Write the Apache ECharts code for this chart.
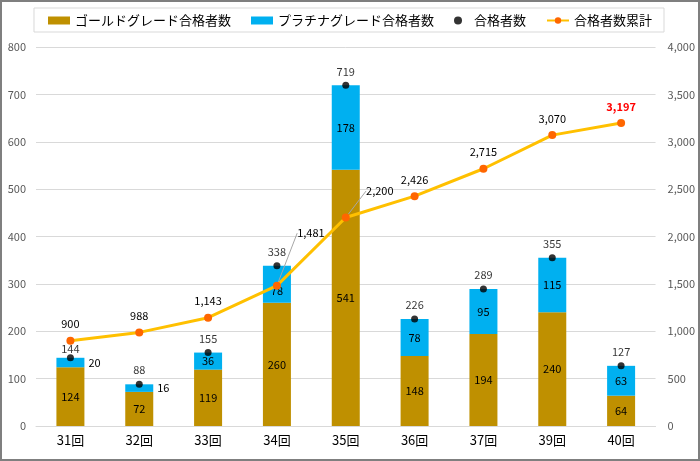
<!DOCTYPE html>
<html>
<head>
<meta charset="utf-8">
<script src="https://cdn.jsdelivr.net/npm/echarts@6/dist/echarts.min.js"></script>
<style>
  html, body { margin: 0; padding: 0; background: #fff; }
  #chart { width: 700px; height: 461px; box-sizing: border-box; border: 2px solid #7f7f7f; }
</style>
</head>
<body>
<div id="chart"></div>
<script>
// 回ごとの合格者数
var categories = ['31回', '32回', '33回', '34回', '35回', '36回', '37回', '39回', '40回'];
var goldPass = [124, 72, 119, 260, 541, 148, 194, 240, 64];
var platinumPass = [20, 16, 36, 78, 178, 78, 95, 115, 63];
var totalPass = [144, 88, 155, 338, 719, 226, 289, 355, 127];
var cumulativePass = [900, 988, 1143, 1481, 2200, 2426, 2715, 3070, 3197];
var leftTicks = [0, 800, 100];
var rightTicks = [0, 4000, 500];

var font = '"Noto Sans CJK JP", "Noto Sans", sans-serif';
var chart = echarts.init(document.getElementById('chart'));

function fmt(v) {
    return v.toLocaleString('en-US');
}

// small segments: label goes to the right of the bar
var platinumData = platinumPass.map(function (v, i) {
    if (v < 30) {
        return {value: v, label: {position: 'right', distance: 4}};
    }
    if (i === 3) {
        return {value: v, label: {offset: [0, 6]}};
    }
    return v;
});

var totalData = totalPass.map(function (v, i) {
    if (i === 0) {
        return {value: v, label: {distance: 0}};
    }
    return v;
});

var cumData = cumulativePass.map(function (v, i) {
    if (i === cumulativePass.length - 1) {
        return {value: v, label: {color: '#FF0000', fontWeight: 'bold'}};
    }
    if (i === 3 || i === 4) {
        return {value: v, labelLine: {show: true}};
    }
    return v;
});

var option = {
    textStyle: {fontFamily: font},
    animation: false,
    legend: {
        top: 6,
        left: 'center',
        borderColor: '#D9D9D9',
        borderWidth: 1,
        padding: [6, 12, 5, 14],
        itemGap: 20,
        itemWidth: 22,
        itemHeight: 8,
        textStyle: {fontFamily: font, fontSize: 13, color: '#000'},
        data: [
            {name: 'ゴールドグレード合格者数', icon: 'rect'},
            {name: 'プラチナグレード合格者数', icon: 'rect'},
            {name: '合格者数', icon: 'circle'},
            {name: '合格者数累計'}
        ]
    },
    grid: {left: 34, right: 42, top: 45, bottom: 33},
    xAxis: {
        type: 'category',
        data: categories,
        axisTick: {show: false},
        axisLine: {lineStyle: {color: '#D9D9D9'}},
        axisLabel: {color: '#000', fontSize: 13, margin: 8, fontFamily: font}
    },
    yAxis: [
        {
            type: 'value',
            min: leftTicks[0], max: leftTicks[1], interval: leftTicks[2],
            axisLabel: {color: '#595959', fontSize: 11, margin: 10},
            splitLine: {lineStyle: {color: '#D9D9D9'}}
        },
        {
            type: 'value',
            min: rightTicks[0], max: rightTicks[1], interval: rightTicks[2],
            axisLabel: {color: '#595959', fontSize: 11, margin: 12, formatter: fmt},
            splitLine: {show: false}
        }
    ],
    series: [
        {
            name: 'ゴールドグレード合格者数',
            type: 'bar',
            stack: 'pass',
            barWidth: 28,
            itemStyle: {color: '#BF9000'},
            label: {show: true, position: 'inside', color: '#000', fontSize: 11},
            data: goldPass
        },
        {
            name: 'プラチナグレード合格者数',
            type: 'bar',
            stack: 'pass',
            barWidth: 28,
            itemStyle: {color: '#00B0F0'},
            label: {show: true, position: 'inside', color: '#000', fontSize: 11},
            data: platinumData
        },
        {
            name: '合格者数',
            type: 'scatter',
            symbolSize: 7,
            itemStyle: {color: '#000'},
            label: {show: true, position: 'top', distance: 5, color: '#000', fontSize: 11},
            z: 5,
            data: totalData
        },
        {
            name: '合格者数累計',
            type: 'line',
            yAxisIndex: 1,
            symbol: 'circle',
            symbolSize: 8,
            lineStyle: {color: '#FFC000', width: 3},
            itemStyle: {color: '#FF6600'},
            label: {
                show: true, position: 'top', distance: 7,
                color: '#000', fontSize: 11, formatter: function (p) { return fmt(p.value); }
            },
            labelLine: {show: false, lineStyle: {color: '#A6A6A6', width: 1}},
            labelLayout: function (p) {
                if (p.dataIndex === 3) return {dx: 34, dy: -36};
                if (p.dataIndex === 4) return {dx: 34, dy: -10};
                return {};
            },
            z: 4,
            data: cumData
        }
    ]
};

chart.setOption(option);
</script>
</body>
</html>
